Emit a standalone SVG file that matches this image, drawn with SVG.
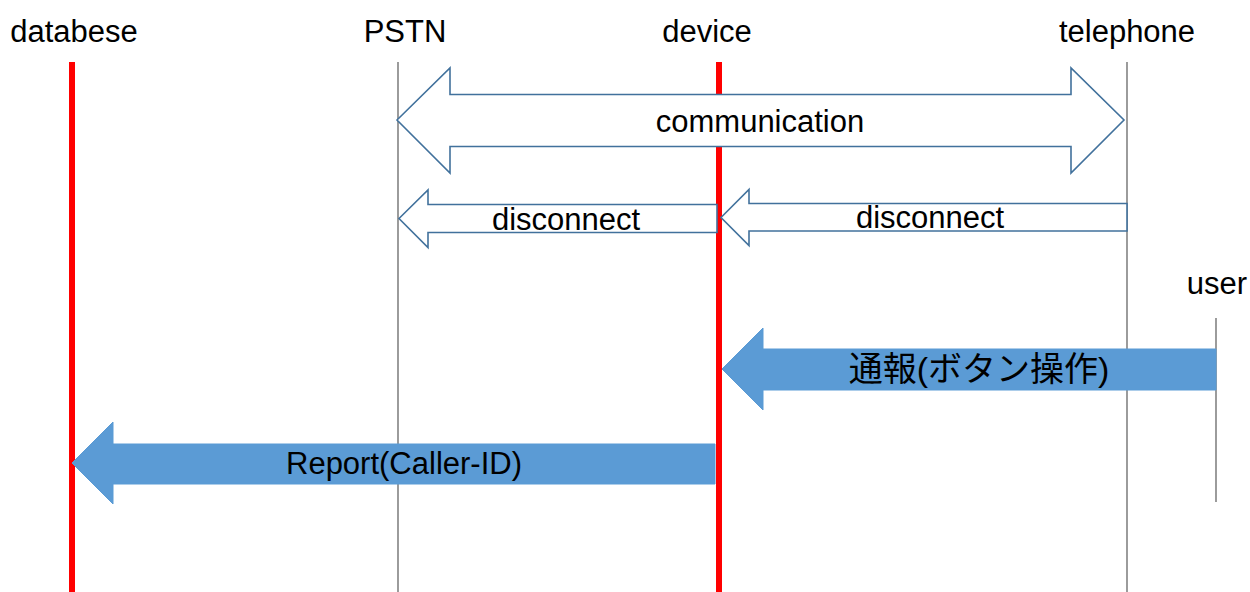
<svg xmlns="http://www.w3.org/2000/svg" width="1250" height="592" viewBox="0 0 1250 592">
<style>
.lbl{font-family:"Liberation Sans",Arial,sans-serif;font-size:31px;fill:#000;text-anchor:middle}
.cjk{font-family:"Liberation Sans","Noto Sans CJK JP",sans-serif;font-size:34px;fill:#000;text-anchor:middle}
.red{stroke:#FF0000;stroke-width:6;fill:none}
.gray{stroke:#595959;stroke-width:1.2;fill:none}
.hollow{fill:#FFFFFF;stroke:#41719C;stroke-width:1.6;stroke-linejoin:miter}
.solid{fill:#5B9BD5;stroke:#5B9BD5;stroke-width:1}
</style>
<rect width="1250" height="592" fill="#FFFFFF"/>
<g id="databese">
<line class="red" x1="72" y1="62" x2="72" y2="592"/>
<text class="lbl" x="74" y="42">databese</text>
</g>
<g id="PSTN">
<line class="gray" x1="398" y1="62" x2="398" y2="592"/>
<text class="lbl" x="405" y="42">PSTN</text>
</g>
<g id="device">
<line class="red" x1="719" y1="62" x2="719" y2="592"/>
<text class="lbl" x="707" y="42">device</text>
</g>
<g id="telephone">
<line class="gray" x1="1127" y1="62" x2="1127" y2="592"/>
<text class="lbl" x="1127" y="42">telephone</text>
</g>
<g id="user">
<line class="gray" x1="1216" y1="318" x2="1216" y2="502"/>
<text class="lbl" x="1217" y="294">user</text>
</g>
<g id="connectors">
<g id="communication">
<polygon class="hollow" points="397,120 450,68 450,94.5 1071,94.5 1071,68 1124,120 1071,173 1071,146.5 450,146.5 450,173"/>
<text class="lbl" x="760" y="132">communication</text>
</g>
<g id="disconnect-left">
<polygon class="hollow" points="399,218.5 428,190 428,204.5 717,204.5 717,232.5 428,232.5 428,247.5"/>
<text class="lbl" x="566" y="230">disconnect</text>
</g>
<g id="disconnect-right">
<polygon class="hollow" points="721,217.5 749,189.5 749,203.5 1127,203.5 1127,231 749,231 749,245.5"/>
<text class="lbl" x="930" y="228">disconnect</text>
</g>
<g id="report-button">
<polygon class="solid" points="722,369 763,328 763,349 1216,349 1216,390 763,390 763,410"/>
<text class="cjk" x="979" y="381">通報(ボタン操作)</text>
</g>
<g id="report-callerid">
<polygon class="solid" points="72,463 113,422 113,444 715,444 715,484 113,484 113,504"/>
<text class="lbl" x="404" y="474">Report(Caller-ID)</text>
</g>
</g>
</svg>
